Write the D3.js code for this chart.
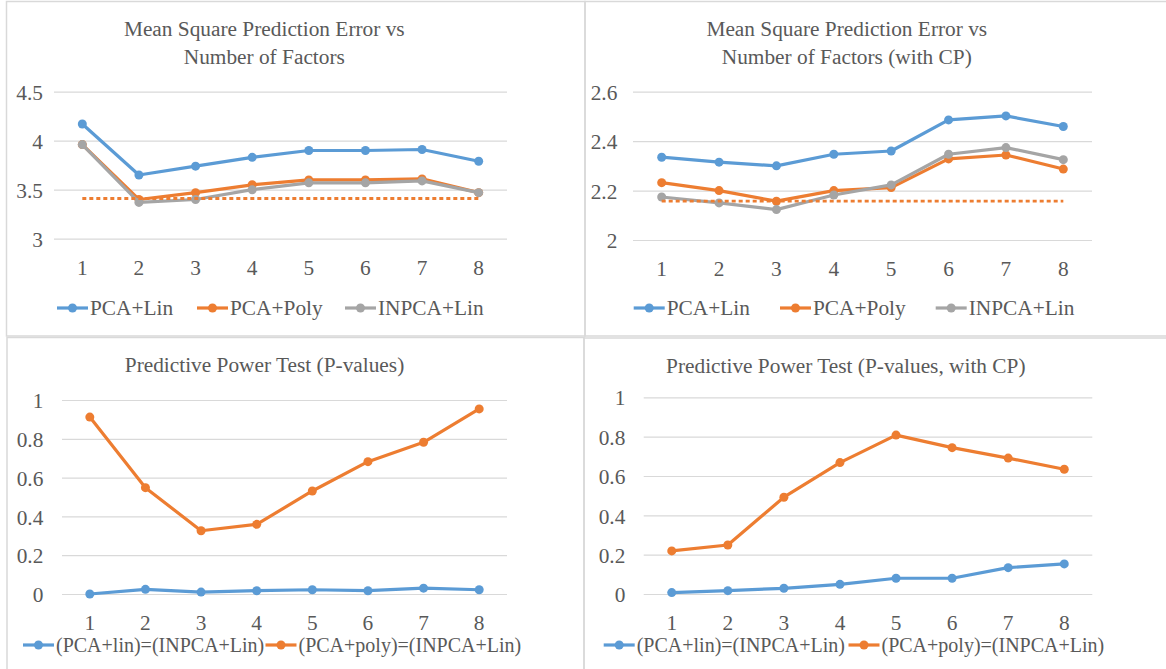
<!DOCTYPE html>
<html>
<head>
<meta charset="utf-8">
<script src="https://cdn.jsdelivr.net/npm/d3@7"></script>
<style>
  html, body { margin: 0; padding: 0; background: #ffffff; }
  svg { display: block; }
</style>
</head>
<body>
<svg id="chart" width="1166" height="669"></svg>
<script>
// ---------------- DATA ----------------
const categories = ["1", "2", "3", "4", "5", "6", "7", "8"];

const seriesNamesTop = ["PCA+Lin", "PCA+Poly", "INPCA+Lin"];
const seriesNamesBottom = ["(PCA+lin)=(INPCA+Lin)", "(PCA+poly)=(INPCA+Lin)"];

// Top-left: Mean Square Prediction Error vs Number of Factors
const mspePcaLin   = [4.17, 3.65, 3.74, 3.83, 3.90, 3.90, 3.91, 3.79];
const mspePcaPoly  = [3.96, 3.40, 3.47, 3.55, 3.60, 3.60, 3.61, 3.47];
const mspeInpcaLin = [3.96, 3.37, 3.40, 3.50, 3.57, 3.57, 3.59, 3.47];
const mspeRefLine  = [3.41, 3.41, 3.41, 3.41, 3.41, 3.41, 3.41, 3.41];
const mspeTicks      = [3, 3.5, 4, 4.5];
const mspeTickLabels = ["3", "3.5", "4", "4.5"];

// Top-right: Mean Square Prediction Error vs Number of Factors (with CP)
const cpPcaLin   = [2.335, 2.315, 2.300, 2.347, 2.360, 2.486, 2.502, 2.459];
const cpPcaPoly  = [2.232, 2.200, 2.157, 2.200, 2.212, 2.328, 2.344, 2.287];
const cpInpcaLin = [2.174, 2.150, 2.123, 2.182, 2.223, 2.347, 2.374, 2.325];
const cpRefLine  = [2.157, 2.157, 2.157, 2.157, 2.157, 2.157, 2.157, 2.157];
const cpTicks      = [2, 2.2, 2.4, 2.6];
const cpTickLabels = ["2", "2.2", "2.4", "2.6"];

// Bottom-left: Predictive Power Test (P-values)
const pvalLin  = [0.000, 0.024, 0.010, 0.017, 0.022, 0.017, 0.030, 0.022];
const pvalPoly = [0.912, 0.548, 0.326, 0.359, 0.531, 0.682, 0.782, 0.954];

// Bottom-right: Predictive Power Test (P-values, with CP)
const pvalCpLin  = [0.007, 0.017, 0.029, 0.049, 0.080, 0.080, 0.134, 0.153];
const pvalCpPoly = [0.219, 0.249, 0.492, 0.668, 0.808, 0.744, 0.691, 0.634];

const pTicks      = [0, 0.2, 0.4, 0.6, 0.8, 1];
const pTickLabels = ["0", "0.2", "0.4", "0.6", "0.8", "1"];

// ---------------- STYLE ----------------
const BLUE = "#5B9BD5", ORANGE = "#ED7D31", GRAY = "#A5A5A5";
const TEXT = "#595959", GRID = "#D9D9D9", BORDER = "#D9D9D9";
const FONT = "'Liberation Serif', 'Times New Roman', Times, serif";

const svg = d3.select("#chart");

// panel borders
const borders = svg.append("g").attr("fill", "none").attr("stroke", BORDER).attr("stroke-width", 1.5);
borders.append("rect").attr("x", 6.5).attr("y", 1.5).attr("width", 578.5).attr("height", 334.5);
borders.append("rect").attr("x", 585).attr("y", 1.5).attr("width", 700).attr("height", 334.5);
borders.append("rect").attr("x", 7).attr("y", 337.5).attr("width", 577).attr("height", 400);
borders.append("rect").attr("x", 584).attr("y", 338).attr("width", 700).attr("height", 400);

function drawPanel(cfg) {
  const g = svg.append("g");
  const x = d3.scaleBand().domain(categories).range([cfg.x0, cfg.x1]).padding(0);
  const y = d3.scaleLinear().domain(cfg.domain).range([cfg.yBottom, cfg.yTop]);
  const cx = d => x(d) + x.bandwidth() / 2;

  // gridlines
  g.append("g")
    .attr("transform", `translate(${cfg.x0},0)`)
    .call(d3.axisLeft(y).tickValues(cfg.ticks).tickSize(-(cfg.x1 - cfg.x0)).tickFormat(""))
    .call(a => a.select(".domain").remove())
    .call(a => a.selectAll("line").attr("stroke", GRID).attr("stroke-width", 1.2));

  // y labels
  g.append("g")
    .attr("transform", `translate(${cfg.x0},0)`)
    .attr("color", TEXT)
    .call(d3.axisLeft(y).tickValues(cfg.ticks).tickSize(0).tickPadding(cfg.yPad)
      .tickFormat((d, i) => cfg.tickLabels[i]))
    .call(a => a.select(".domain").remove())
    .call(a => a.selectAll("text").attr("font-family", FONT).attr("font-size", 21.33).attr("dy", "0.36em"));

  // x labels
  g.append("g")
    .attr("transform", `translate(0,${cfg.yBottom})`)
    .attr("color", TEXT)
    .call(d3.axisBottom(x).tickSize(0).tickPadding(20.9))
    .call(a => a.select(".domain").remove())
    .call(a => a.selectAll("text").attr("font-family", FONT).attr("font-size", 21.33));

  // title
  const title = g.append("text")
    .attr("text-anchor", "middle")
    .attr("font-family", FONT).attr("font-size", 21.33).attr("fill", TEXT);
  cfg.title.forEach((t, i) => {
    title.append("tspan").attr("x", cfg.titleX).attr("y", cfg.titleY + i * 28).text(t);
  });

  const line = d3.line().x((d, i) => cx(categories[i])).y(d => y(d));

  cfg.series.forEach(s => {
    g.append("path").datum(s.values)
      .attr("fill", "none").attr("stroke", s.color).attr("stroke-width", 3.2)
      .attr("stroke-linejoin", "round").attr("stroke-linecap", "round")
      .attr("d", line);
    g.selectAll(null).data(s.values).enter().append("circle")
      .attr("cx", (d, i) => cx(categories[i])).attr("cy", d => y(d))
      .attr("r", 4.5).attr("fill", s.color);
  });

  if (cfg.ref) {
    g.append("path").datum(cfg.ref)
      .attr("fill", "none").attr("stroke", ORANGE).attr("stroke-width", 2.8)
      .attr("stroke-dasharray", "4,3")
      .attr("d", line);
  }

  // legend
  const lg = g.append("g");
  cfg.series.forEach((s, i) => {
    const lx = cfg.legendX[i];
    lg.append("line").attr("x1", lx).attr("x2", lx + 31)
      .attr("y1", cfg.legendY).attr("y2", cfg.legendY)
      .attr("stroke", s.color).attr("stroke-width", 3.2);
    lg.append("circle").attr("cx", lx + 15.5).attr("cy", cfg.legendY).attr("r", 4.5).attr("fill", s.color);
    lg.append("text").attr("x", lx + 33).attr("y", cfg.legendY + cfg.legendFont * 0.35)
      .attr("font-family", FONT).attr("font-size", cfg.legendFont).attr("fill", TEXT)
      .text(s.name);
  });
}

drawPanel({
  x0: 54, x1: 507, yTop: 91.7, yBottom: 238.7, domain: [3, 4.5],
  ticks: mspeTicks, tickLabels: mspeTickLabels, yPad: 11,
  title: ["Mean Square Prediction Error vs", "Number of Factors"], titleX: 264.3, titleY: 36,
  series: [
    { name: seriesNamesTop[0], values: mspePcaLin, color: BLUE },
    { name: seriesNamesTop[1], values: mspePcaPoly, color: ORANGE },
    { name: seriesNamesTop[2], values: mspeInpcaLin, color: GRAY }
  ],
  ref: mspeRefLine,
  legendX: [57, 197, 345], legendY: 308, legendFont: 21.33
});

drawPanel({
  x0: 633, x1: 1092, yTop: 91.7, yBottom: 240, domain: [2, 2.6],
  ticks: cpTicks, tickLabels: cpTickLabels, yPad: 15.7,
  title: ["Mean Square Prediction Error vs", "Number of Factors (with CP)"], titleX: 846.8, titleY: 36,
  series: [
    { name: seriesNamesTop[0], values: cpPcaLin, color: BLUE },
    { name: seriesNamesTop[1], values: cpPcaPoly, color: ORANGE },
    { name: seriesNamesTop[2], values: cpInpcaLin, color: GRAY }
  ],
  ref: cpRefLine,
  legendX: [633.7, 780, 935.7], legendY: 308, legendFont: 21.33
});

drawPanel({
  x0: 62, x1: 507, yTop: 400, yBottom: 594, domain: [0, 1],
  ticks: pTicks, tickLabels: pTickLabels, yPad: 18.7,
  title: ["Predictive Power Test (P-values)"], titleX: 264.5, titleY: 371.7,
  series: [
    { name: seriesNamesBottom[0], values: pvalLin, color: BLUE },
    { name: seriesNamesBottom[1], values: pvalPoly, color: ORANGE }
  ],
  legendX: [23, 265.5], legendY: 645, legendFont: 20
});

drawPanel({
  x0: 643.7, x1: 1092.3, yTop: 397.3, yBottom: 594, domain: [0, 1],
  ticks: pTicks, tickLabels: pTickLabels, yPad: 18.4,
  title: ["Predictive Power Test (P-values, with CP)"], titleX: 845.8, titleY: 373,
  series: [
    { name: seriesNamesBottom[0], values: pvalCpLin, color: BLUE },
    { name: seriesNamesBottom[1], values: pvalCpPoly, color: ORANGE }
  ],
  legendX: [603.7, 848.5], legendY: 645, legendFont: 20
});
</script>
</body>
</html>
